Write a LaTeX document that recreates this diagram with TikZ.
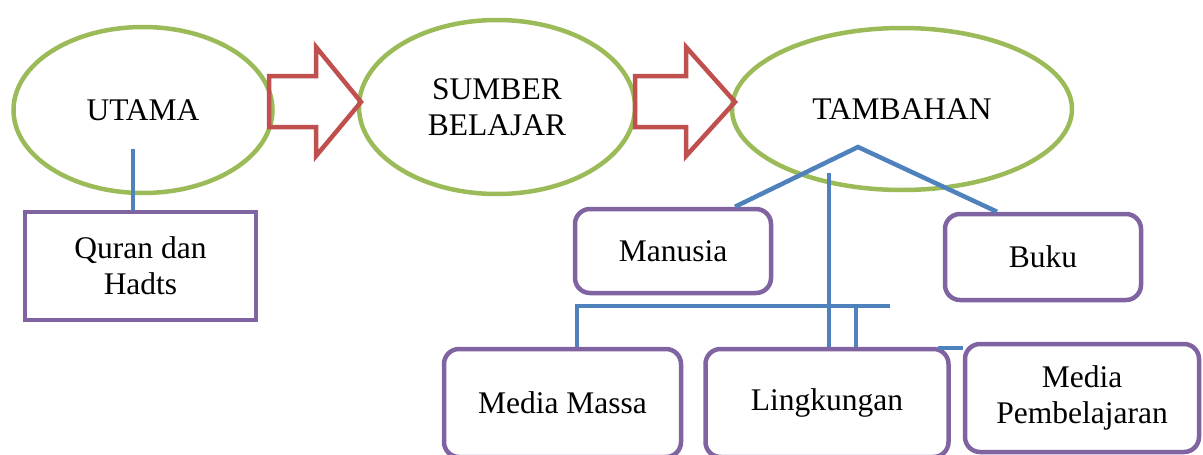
\documentclass[tikz,border=0pt]{standalone}
\usepackage{fontspec}
\setmainfont{Liberation Serif}
\usetikzlibrary{positioning, shapes.geometric}

\definecolor{leafgreen}{HTML}{9BBB59}
\definecolor{brickred}{HTML}{C0504D}
\definecolor{steelblue}{HTML}{4F81BD}
\definecolor{plum}{HTML}{8064A2}

\begin{document}
\begin{tikzpicture}[
        x=1pt, y=-1pt,
        font=\fontsize{31.5}{36}\selectfont,
        E/.style = {draw=leafgreen, ellipse, line width=4.5pt, inner sep=0pt, align=center},
        Q/.style = {draw=plum, fill=white, line width=4.5pt, inner sep=0pt, align=center},
        B/.style = {Q, rounded corners=15pt},
        link/.style = {draw=steelblue, line width=4.5pt},
        blockarrow/.style = {draw=brickred, line width=4.5pt}
    ]
        \useasboundingbox (0,0) rectangle (1203,455);

        \node[E, minimum width=259pt, minimum height=166pt] (utama) at (143,110) {UTAMA};
        \node[E, minimum width=276pt, minimum height=174pt] (sumber) at (497,107) {SUMBER\\BELAJAR};
        \node[E, minimum width=340pt, minimum height=162pt] (tambahan) at (902,109) {TAMBAHAN};

        \node[Q, minimum width=231pt, minimum height=108pt] (quran) at (140.5,266) {Quran dan\\Hadts};
        \node[B, minimum width=196pt, minimum height=84pt] (manusia) at (673,251) {Manusia};
        \node[B, minimum width=196pt, minimum height=86pt] (buku) at (1043,257) {Buku};

        \node[B, minimum width=237pt, minimum height=108pt] (massa) at (562.5,403) {Media Massa};
        \node[B, minimum width=243pt, minimum height=108pt, right=20pt of massa] (lingkungan) {Lingkungan};
        \node[B, minimum width=234pt, minimum height=108pt, right=12pt of lingkungan, yshift=5pt] (pembelajaran) {Media\\Pembelajaran};

        % block arrows between the ellipses
        \draw[blockarrow] (269,76) -- (316,76) -- (316,47) -- (361,102) -- (316,156) -- (316,127) -- (269,127) -- cycle;
        \draw[blockarrow] (635,76) -- (686,76) -- (686,47) -- (735,102) -- (686,156) -- (686,127) -- (635,127) -- cycle;

        \coordinate (utamastem) at (133,149);
        \coordinate (apex) at (858,147);
        \coordinate (stem) at (829,173);
        \coordinate (barL) at (577,306);
        \coordinate (barR) at (890,306);
        \coordinate (barT) at (856,306);
        \coordinate (barB) at (938,348);

        \draw[link] (utamastem) -- (utamastem |- quran.north);
        \draw[link] ([xshift=62pt]manusia.north) -- (apex) -- ([xshift=-46pt]buku.north);
        \draw[link] (stem) -- (stem |- lingkungan.north);
        \draw[link] (barL |- massa.north) -- (barL) -- (barR);
        \draw[link] (barT) -- (barT |- lingkungan.north);
        \draw[link] (barB) -- (pembelajaran.west |- barB);

    \end{tikzpicture}
\end{document}
